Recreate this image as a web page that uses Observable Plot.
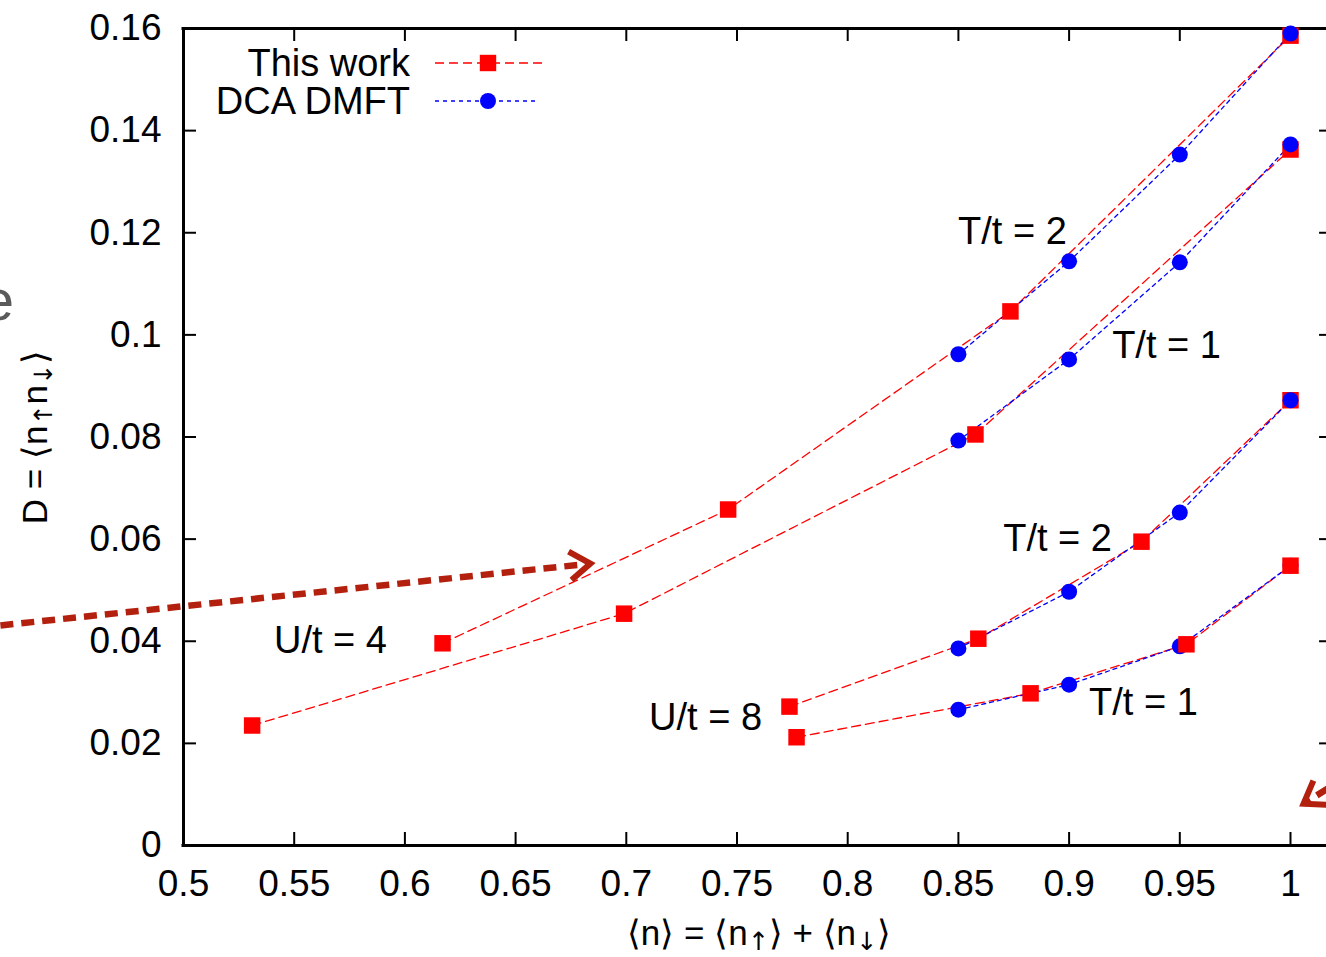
<!DOCTYPE html>
<html>
<head>
<meta charset="utf-8">
<script src="https://cdn.jsdelivr.net/npm/d3@7"></script>
<script src="https://cdn.jsdelivr.net/npm/@observablehq/plot@0.6"></script>
<style>
  html, body { margin: 0; padding: 0; background: #fff; }
  #chart { width: 1326px; height: 957px; overflow: hidden; }
</style>
</head>
<body>
<div id="chart"></div>
<script>
// ---------- data ----------
const xTicks = [0.5, 0.55, 0.6, 0.65, 0.7, 0.75, 0.8, 0.85, 0.9, 0.95, 1];
const xTickLabels = ["0.5", "0.55", "0.6", "0.65", "0.7", "0.75", "0.8", "0.85", "0.9", "0.95", "1"];
const yTicks = [0, 0.02, 0.04, 0.06, 0.08, 0.1, 0.12, 0.14, 0.16];
const yTickLabels = ["0", "0.02", "0.04", "0.06", "0.08", "0.1", "0.12", "0.14", "0.16"];

// "This work" (red squares)
const work_U4_T2_x = [0.617, 0.746, 0.8735, 1.0];
const work_U4_T2_y = [0.0396, 0.0658, 0.1046, 0.1586];
const work_U4_T1_x = [0.531, 0.699, 0.8577, 1.0];
const work_U4_T1_y = [0.0235, 0.0454, 0.0805, 0.1363];
const work_U8_T2_x = [0.7737, 0.859, 0.9327, 1.0];
const work_U8_T2_y = [0.0272, 0.0405, 0.0595, 0.0872];
const work_U8_T1_x = [0.7769, 0.8826, 0.953, 1.0];
const work_U8_T1_y = [0.0212, 0.0298, 0.0394, 0.0548];

// "DCA DMFT" (blue circles)
const dca_U4_T2_x = [0.85, 0.9, 0.95, 1.0];
const dca_U4_T2_y = [0.0962, 0.1144, 0.1353, 0.159];
const dca_U4_T1_x = [0.85, 0.9, 0.95, 1.0];
const dca_U4_T1_y = [0.0793, 0.0952, 0.1142, 0.1373];
const dca_U8_T2_x = [0.85, 0.9, 0.95, 1.0];
const dca_U8_T2_y = [0.0386, 0.0497, 0.0652, 0.0872];
const dca_U8_T1_x = [0.85, 0.9, 0.95, 1.0];
const dca_U8_T1_y = [0.0266, 0.0315, 0.039, 0.0548];

// in-plot labels
const annoText = ["T/t = 2", "T/t = 1", "T/t = 2", "T/t = 1", "U/t = 4", "U/t = 8"];
const annoX = [0.8744, 0.944, 0.8948, 0.9336, 0.5664, 0.7358];
const annoY = [0.1201, 0.0979, 0.0601, 0.028, 0.0400, 0.0251];

// overlay arrows (slide annotation): start -> tip
const arrowX1 = [0.4173, 1.0330];
const arrowY1 = [0.0431, 0.0155];
const arrowX2 = [0.6838, 1.0059];
const arrowY2 = [0.0552, 0.0082];

const legendLabels = ["This work", "DCA DMFT"];
const xLabel = "⟨n⟩ = ⟨n↑⟩ + ⟨n↓⟩";
const yLabel = "D = ⟨n↑n↓⟩";

// ---------- build tables ----------
function series(group, xs, ys) { return xs.map((x, i) => ({group, x, y: ys[i]})); }
const work = [
  ...series("U4T2", work_U4_T2_x, work_U4_T2_y),
  ...series("U4T1", work_U4_T1_x, work_U4_T1_y),
  ...series("U8T2", work_U8_T2_x, work_U8_T2_y),
  ...series("U8T1", work_U8_T1_x, work_U8_T1_y)
];
const dca = [
  ...series("U4T2", dca_U4_T2_x, dca_U4_T2_y),
  ...series("U4T1", dca_U4_T1_x, dca_U4_T1_y),
  ...series("U8T2", dca_U8_T2_x, dca_U8_T2_y),
  ...series("U8T1", dca_U8_T1_x, dca_U8_T1_y)
];
const dcaTop = d => d.x === 1 && d.group !== "U8T1";
const annotations = annoText.map((t, i) => ({text: t, x: annoX[i], y: annoY[i]}));
const arrows = arrowX1.map((x1, i) => ({x1, y1: arrowY1[i], x2: arrowX2[i], y2: arrowY2[i]}));

// ---------- layout ----------
const W = 1326, H = 957;
const mL = 183, mR = 36, mT = 28, mB = 112;
const xDom = [0.5, 1], yDom = [0, 0.16];
const pxPerX = (W - mL - mR) / (xDom[1] - xDom[0]);
const pxPerY = (H - mT - mB) / (yDom[1] - yDom[0]);
const xRight = 1.019;            // right frame edge (off picture)
const tickPx = 13;
const tx = tickPx / pxPerX, ty = tickPx / pxPerY;

const RED = "#ff0000", BLUE = "#0000ff", ARROW = "#b3200e";
const FONT = "'Liberation Sans', Arimo, Arial, Helvetica, sans-serif";
const SYMFONT = "'DejaVu Sans', 'Liberation Sans', sans-serif";

function chevron(angle) {
  return {
    draw(context, size) {
      const r = Math.sqrt(size / Math.PI);
      const L = 2.5 * r, a = 35 * Math.PI / 180;
      const c = Math.cos(angle), s = Math.sin(angle);
      const rot = (px, py) => [px * c - py * s, px * s + py * c];
      const p1 = rot(-L * Math.cos(a), -L * Math.sin(a));
      const p2 = rot(-L * Math.cos(a), L * Math.sin(a));
      context.moveTo(p1[0], p1[1]);
      context.lineTo(0, 0);
      context.lineTo(p2[0], p2[1]);
    }
  };
}
const headMarks = arrows.map(a => {
  const ang = Math.atan2(-(a.y2 - a.y1) * pxPerY, (a.x2 - a.x1) * pxPerX);
  return Plot.dot([a], {x: "x2", y: "y2", symbol: chevron(ang), r: 10, fill: "none",
    stroke: ARROW, strokeWidth: 6, strokeLinejoin: "miter", strokeLinecap: "butt"});
});

const chart = Plot.plot({
  width: W, height: H,
  marginLeft: mL, marginRight: mR, marginTop: mT, marginBottom: mB,
  x: {domain: xDom, axis: null},
  y: {domain: yDom, axis: null},
  style: {fontFamily: FONT, background: "white", color: "black", overflow: "hidden"},
  marks: [
    // ticks (inward, mirrored)
    Plot.ruleX(xTicks, {x: d => d, y1: 0, y2: ty, stroke: "black", strokeWidth: 2}),
    Plot.ruleX(xTicks, {x: d => d, y1: 0.16 - ty, y2: 0.16, stroke: "black", strokeWidth: 2}),
    Plot.ruleY(yTicks, {y: d => d, x1: 0.5, x2: 0.5 + tx, stroke: "black", strokeWidth: 2}),
    Plot.ruleY(yTicks, {y: d => d, x1: xRight - tx, x2: xRight, stroke: "black", strokeWidth: 2}),
    // frame
    Plot.ruleX([0.5], {y1: 0, y2: 0.16, stroke: "black", strokeWidth: 3}),
    Plot.ruleX([xRight], {y1: 0, y2: 0.16, stroke: "black", strokeWidth: 3}),
    Plot.ruleY([0, 0.16], {x1: 0.5, x2: xRight, stroke: "black", strokeWidth: 3, strokeLinecap: "square"}),
    // tick labels
    Plot.text(xTicks, {x: d => d, y: 0, dy: 39, text: (d, i) => xTickLabels[i], fontSize: 37, fill: "black"}),
    Plot.text(yTicks, {x: 0.5, y: d => d, dx: -22, text: (d, i) => yTickLabels[i], textAnchor: "end", fontSize: 37, fill: "black"}),
    // lines
    Plot.line(work, {x: "x", y: "y", z: "group", stroke: RED, strokeWidth: 1.3, strokeDasharray: "9,5"}),
    Plot.line(dca, {x: "x", y: "y", z: "group", stroke: BLUE, strokeWidth: 1.3, strokeDasharray: "4,4"}),
    // points
    Plot.dot(dca.filter(d => !dcaTop(d)), {x: "x", y: "y", r: 8, fill: BLUE}),
    Plot.dot(work, {x: "x", y: "y", symbol: "square", r: 9.3, fill: RED}),
    Plot.dot(dca.filter(dcaTop), {x: "x", y: "y", r: 8, fill: BLUE}),
    // in-plot labels
    Plot.text(annotations, {x: "x", y: "y", text: "text", fontSize: 38, fill: "black"}),
    // axis titles
    Plot.text([xLabel], {frameAnchor: "bottom", dx: 22, dy: 88, textAnchor: "middle", lineAnchor: "middle", fontSize: 35, fill: "black"}),
    Plot.text([yLabel], {frameAnchor: "left", dx: -148, rotate: -90, textAnchor: "middle", lineAnchor: "middle", fontSize: 35, fill: "black"}),
    // slide overlay arrows
    Plot.link(arrows, {x1: "x1", y1: "y1", x2: "x2", y2: "y2", stroke: ARROW, strokeWidth: 6.5, strokeDasharray: "13,8", strokeLinecap: "butt"}),
    ...headMarks
  ]
});
document.getElementById("chart").appendChild(chart);

// ---------- post-processing: subscripts, legend, slide fragment ----------
const svg = d3.select(chart);
function subscriptify(label, parts) {
  svg.selectAll("text").filter(function() { return this.textContent === label; }).each(function() {
    const t = d3.select(this);
    t.text(null);
    let shifted = false;
    parts.forEach(p => {
      const ts = t.append("tspan").text(p.t);
      if (p.sub) {
        ts.attr("font-size", "0.72em").attr("dy", "0.22em").attr("font-family", SYMFONT);
        shifted = true;
      } else if (shifted) { ts.attr("dy", "-0.158em"); shifted = false; }
    });
  });
}
subscriptify(xLabel, [{t: "⟨n⟩ = ⟨n"}, {t: "↑", sub: true}, {t: "⟩ + ⟨n"}, {t: "↓", sub: true}, {t: "⟩"}]);
subscriptify(yLabel, [{t: "D = ⟨n"}, {t: "↑", sub: true}, {t: "n"}, {t: "↓", sub: true}, {t: "⟩"}]);

const leg = svg.append("g").attr("font-family", FONT).attr("font-size", 38);
const legY = [63, 101];
leg.append("text").attr("x", 410).attr("y", legY[0]).attr("dy", "0.35em").attr("text-anchor", "end").text(legendLabels[0]);
leg.append("line").attr("x1", 435).attr("x2", 542).attr("y1", legY[0]).attr("y2", legY[0])
  .attr("stroke", RED).attr("stroke-width", 1.3).attr("stroke-dasharray", "9,5");
leg.append("rect").attr("x", 488 - 8.2).attr("y", legY[0] - 8.2).attr("width", 16.4).attr("height", 16.4).attr("fill", RED);
leg.append("text").attr("x", 410).attr("y", legY[1]).attr("dy", "0.35em").attr("text-anchor", "end").text(legendLabels[1]);
leg.append("line").attr("x1", 435).attr("x2", 535).attr("y1", legY[1]).attr("y2", legY[1])
  .attr("stroke", BLUE).attr("stroke-width", 1.3).attr("stroke-dasharray", "4,4");
leg.append("circle").attr("cx", 488).attr("cy", legY[1]).attr("r", 8).attr("fill", BLUE);

// cut-off slide text at the left edge (as in the reference)
svg.append("text").attr("x", 14).attr("y", 300).attr("dy", "0.35em").attr("text-anchor", "end")
  .attr("font-family", FONT).attr("font-size", 58).attr("fill", "#5a5a5a").text("e");
</script>
</body>
</html>
